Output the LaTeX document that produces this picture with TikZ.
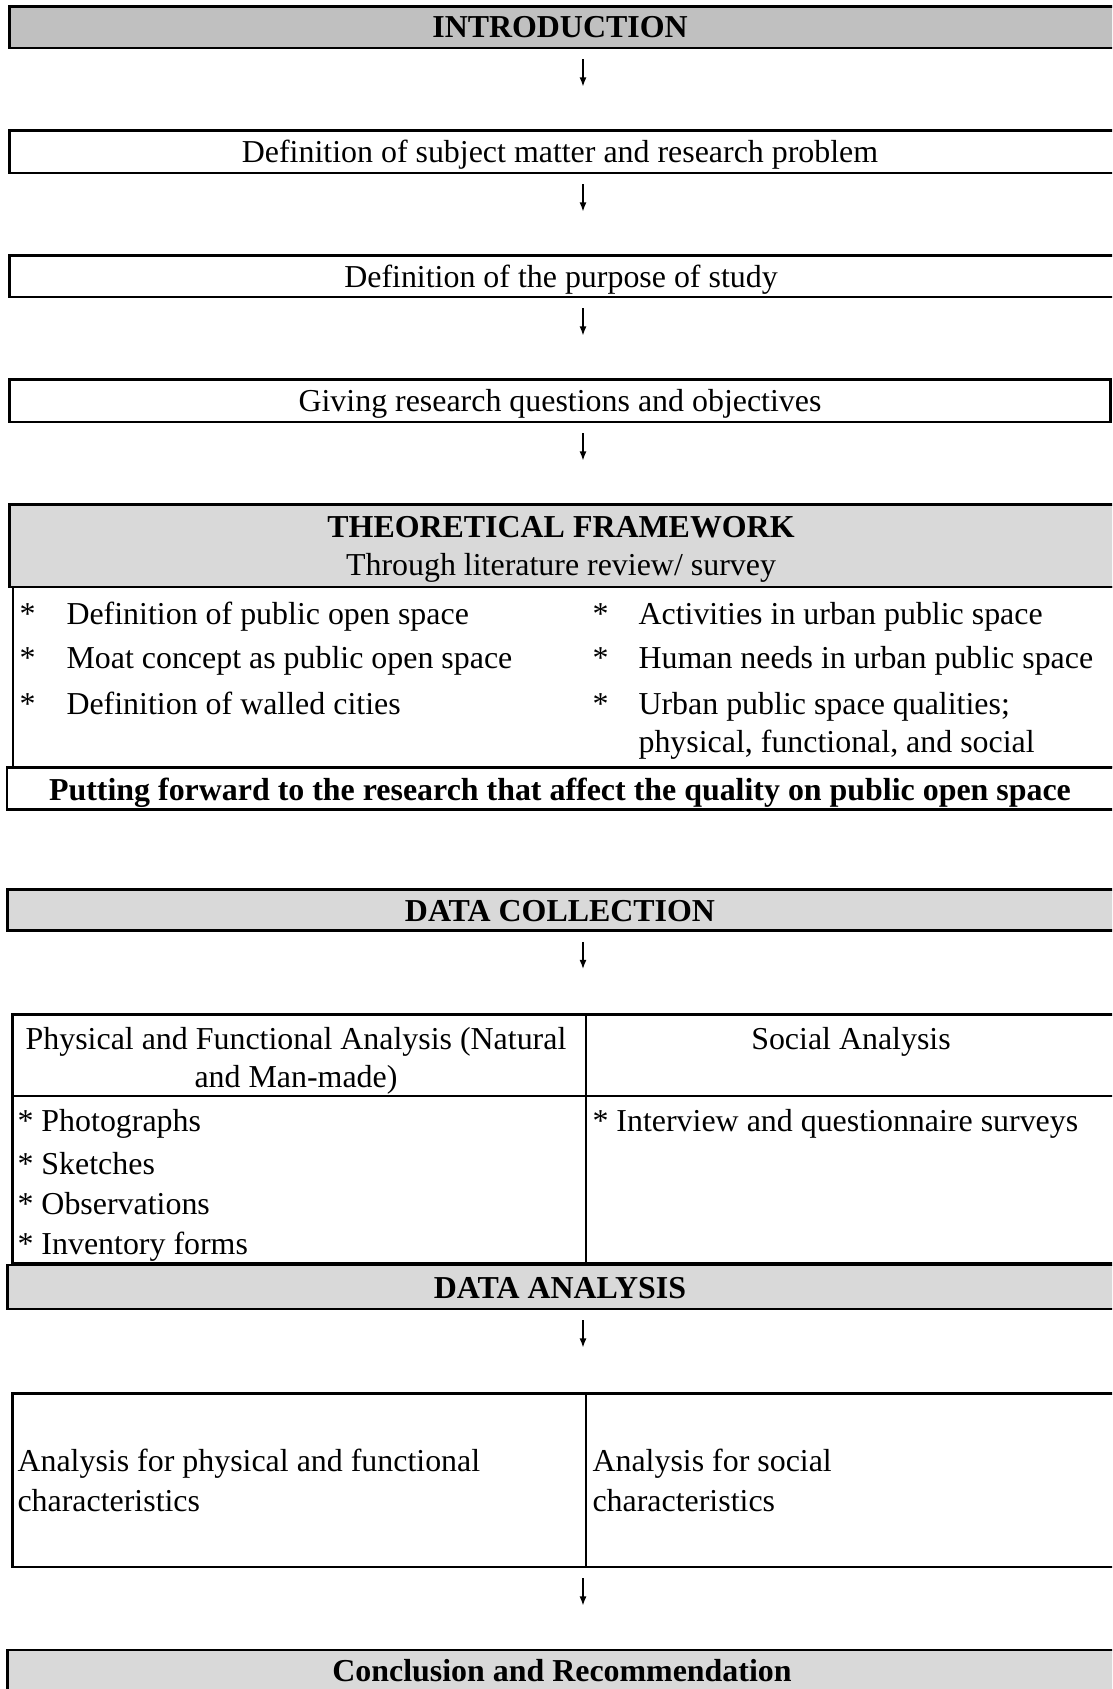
\documentclass[tikz,border=0pt]{standalone}
\usepackage{fontspec}
\setmainfont{Liberation Serif}
\usetikzlibrary{fit,arrows.meta}
\definecolor{introgray}{HTML}{C0C0C0}
\definecolor{boxgray}{HTML}{D9D9D9}

\begin{document}
\begin{tikzpicture}[x=0.376pt,y=-0.376pt,
	font=\fontsize{12}{14.3}\selectfont,
	frame/.style={draw,line width=1.1pt,inner sep=0pt},
	thin/.style={draw,line width=0.75pt,inner sep=0pt},
	txt/.style={inner sep=0pt,text height=10pt,text depth=1pt},
	hd/.style={txt,font=\fontsize{12}{14.3}\selectfont\bfseries},
	flow/.style={line width=0.45pt,-{Latex[length=3.4pt,width=2.6pt]}}]
	\useasboundingbox (0,0) rectangle (1112,1689);
	\clip (0,0) rectangle (1112,1689);
	\coordinate (ax) at (583,0); % x of the arrows
	% introduction part
	\node[frame,fill=introgray,fit={(9.5,6.5) (1116,48)}] (intro) {};
	\node[hd] (introT) at (560,26) {INTRODUCTION};
	\node[frame,fit={(9.5,130.5) (1116,173)}] (subj) {};
	\node[txt] (subjT) at (560,151) {Definition of subject matter and research problem};
	\node[frame,fit={(9.5,255.5) (1116,297)}] (purp) {};
	\node[txt] (purpT) at (561,276) {Definition of the purpose of study};
	\node[frame,fit={(9.5,379.5) (1110.5,422)}] (ques) {};
	\node[txt] (quesT) at (560,400) {Giving research questions and objectives};
	% theoretical framework
	\node[thin,fit={(13,587) (1116,767)}] (list) {};
	\node[frame,fill=boxgray,fit={(9.5,504.5) (1116,587)}] (theo) {};
	\node[hd] (theoT) at (561,526) {THEORETICAL FRAMEWORK};
	\node[txt] (theoS) at (561,564) {Through literature review/ survey};
	\node[txt,anchor=west] (sa) at (19,613) {*};
	\node[txt,anchor=west] (ia) at (66,613) {Definition of public open space};
	\node[txt,anchor=west] (sb) at (19,657) {*};
	\node[txt,anchor=west] (ib) at (66,657) {Moat concept as public open space};
	\node[txt,anchor=west] (sc) at (19,703) {*};
	\node[txt,anchor=west] (ic) at (66,703) {Definition of walled cities};
	\node[txt,anchor=west] (sd) at (592,613) {*};
	\node[txt,anchor=west] (id) at (638,613) {Activities in urban public space};
	\node[txt,anchor=west] (se) at (592,657) {*};
	\node[txt,anchor=west] (ie) at (638,657) {Human needs in urban public space};
	\node[txt,anchor=west] (sf) at (592,703) {*};
	\node[txt,anchor=west] (if) at (638,703) {Urban public space qualities;};
	\node[txt,anchor=west] (ig) at (638,741) {physical, functional, and social};
	\node[frame,fit={(7,767.5) (1116,809.5)}] (putt) {};
	\node[hd] (puttT) at (560,789) {Putting forward to the research that affect the quality on public open space};
	% data collection
	\node[frame,fill=boxgray,fit={(7.5,889.5) (1116,930.5)}] (coll) {};
	\node[hd] (collT) at (560,910) {DATA COLLECTION};
	\node[frame,fit={(12.5,1014.5) (1116,1263)}] (tabone) {};
	\draw[line width=0.75pt] (12.5,1095.5) -- (1116,1095.5);
	\draw[line width=0.75pt] (586,1014.5) -- (586,1263);
	\node[txt] (phys) at (296,1038) {Physical and Functional Analysis (Natural};
	\node[txt] (physb) at (296,1076) {and Man-made)};
	\node[txt] (soc) at (851,1038) {Social Analysis};
	\node[txt,anchor=west] (pa) at (17,1120) {* Photographs};
	\node[txt,anchor=west] (pb) at (17,1163) {* Sketches};
	\node[txt,anchor=west] (pc) at (17,1203) {* Observations};
	\node[txt,anchor=west] (pd) at (17,1243) {* Inventory forms};
	\node[txt,anchor=west] (qa) at (592,1120) {* Interview and questionnaire surveys};
	% data analysis
	\node[frame,fill=boxgray,fit={(7.5,1265) (1116,1309)}] (anal) {};
	\node[hd] (analT) at (560,1287) {DATA ANALYSIS};
	\node[frame,fit={(12.5,1393.5) (1116,1567)}] (tabtwo) {};
	\draw[line width=0.75pt] (586,1393.5) -- (586,1567);
	\node[txt,anchor=west] (aa) at (17,1460) {Analysis for physical and functional};
	\node[txt,anchor=west] (ab) at (17,1500) {characteristics};
	\node[txt,anchor=west] (ac) at (592,1460) {Analysis for social};
	\node[txt,anchor=west] (ad) at (592,1500) {characteristics};
	\node[frame,fill=boxgray,fit={(7.5,1650) (1116,1710)}] (concl) {};
	\node[hd] (conclT) at (562,1670) {Conclusion and Recommendation};
	% arrows
	\draw[flow] (intro.south -| ax) ++(0,10) -- ++(0,27);
	\draw[flow] (subj.south -| ax) ++(0,10) -- ++(0,27);
	\draw[flow] (purp.south -| ax) ++(0,10) -- ++(0,27);
	\draw[flow] (ques.south -| ax) ++(0,10) -- ++(0,27);
	\draw[flow] (coll.south -| ax) ++(0,10) -- ++(0,27);
	\draw[flow] (anal.south -| ax) ++(0,10) -- ++(0,27);
	\draw[flow] (tabtwo.south -| ax) ++(0,10) -- ++(0,27);
\end{tikzpicture}
\end{document}
